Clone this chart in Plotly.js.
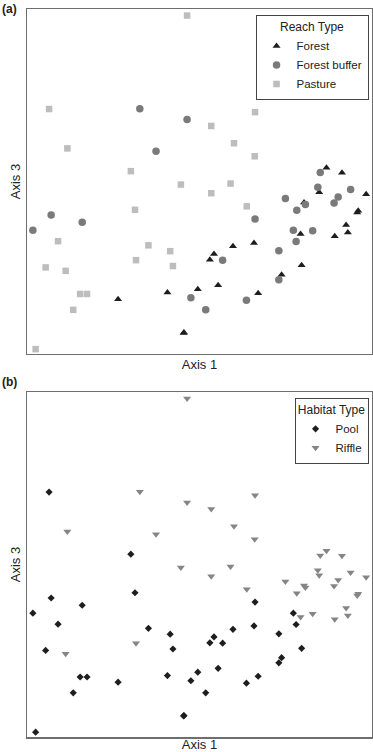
<!DOCTYPE html>
<html>
<head>
<meta charset="utf-8">
<script src="https://cdn.plot.ly/plotly-3.0.1.min.js"></script>
<style>html,body{margin:0;padding:0;background:#fff;}#chart{width:373px;height:752px;}</style>
</head>
<body>
<div id="chart"></div>
<script>
// Ordination scores (Axis 1, Axis 3) for each sampled reach
const axis1 = [4.64,0.64,3.27,4.64,1.17,3.74,3.01,4.46,6.61,5.34,6.00,6.60,8.68,8.50,9.13,5.90,8.43,9.38,3.13,0.70,1.60,0.17,0.90,3.52,4.15,3.16,4.23,0.54,1.12,1.54,1.74,4.07,2.64,4.75,1.34,4.54,0.25,5.34,6.37,8.47,9.83,7.49,8.03,8.07,7.82,8.90,9.02,9.60,9.57,6.61,9.25,9.30,8.92,7.72,8.28,7.93,7.80,5.97,6.58,5.42,5.30,5.67,7.30,7.96,7.38,7.30,4.95,5.54,6.70,6.36,5.18,4.55];
const axis3 = [9.81,7.10,7.11,6.80,5.96,5.88,5.30,4.91,7.01,6.61,6.11,5.73,5.40,5.26,5.25,4.94,4.83,4.77,4.18,4.03,3.82,3.59,3.27,3.15,2.98,2.72,2.55,2.51,2.41,1.74,1.74,1.78,1.59,1.63,1.28,0.61,0.14,4.66,4.28,4.69,4.63,4.51,4.39,4.33,4.17,4.38,4.55,4.15,4.10,3.91,3.74,3.52,3.41,3.59,3.57,3.48,3.26,3.12,3.22,2.90,2.73,2.72,2.99,2.57,2.30,2.15,1.88,1.99,1.76,1.56,1.28,0.62];
const reach = ["P","P","B","B","P","B","P","P","P","P","P","P","F","B","F","P","B","B","P","B","B","B","P","P","P","P","P","P","P","P","P","F","F","B","P","F","P","P","P","F","F","B","F","B","B","B","B","F","F","B","F","F","F","B","B","F","B","F","F","F","F","B","B","F","F","B","F","F","F","B","B","F"];
const habitat = ["R","O","R","R","R","R","O","R","R","R","R","R","R","R","R","R","R","R","O","O","O","O","O","O","O","R","O","O","R","O","O","O","O","O","O","O","O","R","R","R","R","R","R","R","R","R","R","R","R","O","R","R","R","O","R","R","O","O","O","O","O","O","O","O","O","O","O","O","O","O","O","O"];

const reachCodes = ["F","B","P"];
const reachNames = ["Forest","Forest buffer","Pasture"];
const habitatCodes = ["O","R"];
const habitatNames = ["Pool","Riffle"];

const reachStyle = {
  F:{symbol:"triangle-up", color:"#1e1e1e", size:7},
  B:{symbol:"circle", color:"#7a7a7a", size:7.5},
  P:{symbol:"square", color:"#bdbdbd", size:6.5}
};
const habStyle = {
  O:{symbol:"diamond", color:"#1e1e1e", size:5.5},
  R:{symbol:"triangle-down", color:"#858585", size:7}
};

function pick(arr, labels, code){ return arr.filter((v,i)=>labels[i]===code); }

const traces = [];
reachCodes.forEach((c,k)=>{
  traces.push({
    type:"scatter", mode:"markers", name:reachNames[k],
    x:pick(axis1,reach,c), y:pick(axis3,reach,c),
    xaxis:"x", yaxis:"y", legend:"legend",
    marker:{symbol:reachStyle[c].symbol, color:reachStyle[c].color, size:reachStyle[c].size, line:{width:0}},
    hoverinfo:"x+y"
  });
});
habitatCodes.forEach((c,k)=>{
  traces.push({
    type:"scatter", mode:"markers", name:habitatNames[k],
    x:pick(axis1,habitat,c), y:pick(axis3,habitat,c),
    xaxis:"x2", yaxis:"y2", legend:"legend2",
    marker:{symbol:habStyle[c].symbol, color:habStyle[c].color, size:habStyle[c].size, line:{width:0}},
    hoverinfo:"x+y"
  });
});

const fontFam = "Liberation Sans, Arial, sans-serif";
const axBase = {
  range:[0,10], showgrid:false, zeroline:false, showticklabels:false, ticks:"",
  showline:true, linecolor:"#6e6e6e", linewidth:1.5, mirror:true, fixedrange:true
};

const layout = {
  width:373, height:752,
  margin:{l:27, r:1, t:9, b:15},
  paper_bgcolor:"#fff", plot_bgcolor:"#fff",
  font:{family:fontFam, size:12, color:"#222"},
  showlegend:true,
  xaxis:Object.assign({}, axBase, {domain:[0,1], anchor:"y", title:{text:"Axis 1", standoff:5, font:{size:13}}}),
  yaxis:Object.assign({}, axBase, {domain:[0.5261,1], anchor:"x", title:{text:"Axis 3", standoff:2, font:{size:13}}}),
  xaxis2:Object.assign({}, axBase, {domain:[0,1], anchor:"y2", title:{text:"Axis 1", standoff:5, font:{size:13}}}),
  yaxis2:Object.assign({}, axBase, {domain:[0,0.4739], anchor:"x2", title:{text:"Axis 3", standoff:2, font:{size:13}}}),
  legend:{
    x:0.99, y:0.992, xanchor:"right", yanchor:"top",
    bordercolor:"#444", borderwidth:1, bgcolor:"#fff",
    title:{text:"Reach Type", side:"top center", font:{size:12}},
    font:{size:11.5, color:"#222"}, itemwidth:30, tracegroupgap:0
  },
  legend2:{
    x:0.99, y:0.466, xanchor:"right", yanchor:"top",
    bordercolor:"#444", borderwidth:1, bgcolor:"#fff",
    title:{text:"Habitat Type", side:"top center", font:{size:12}},
    font:{size:11.5, color:"#222"}, itemwidth:30, tracegroupgap:0
  },
  annotations:[
    {text:"<b>(a)</b>", xref:"paper", yref:"paper", x:-0.078, y:1.013, xanchor:"left", yanchor:"top", showarrow:false, font:{size:12, color:"#222"}},
    {text:"<b>(b)</b>", xref:"paper", yref:"paper", x:-0.078, y:0.4995, xanchor:"left", yanchor:"top", showarrow:false, font:{size:12, color:"#222"}}
  ]
};

Plotly.newPlot("chart", traces, layout, {displayModeBar:false, staticPlot:true});
</script>
</body>
</html>
